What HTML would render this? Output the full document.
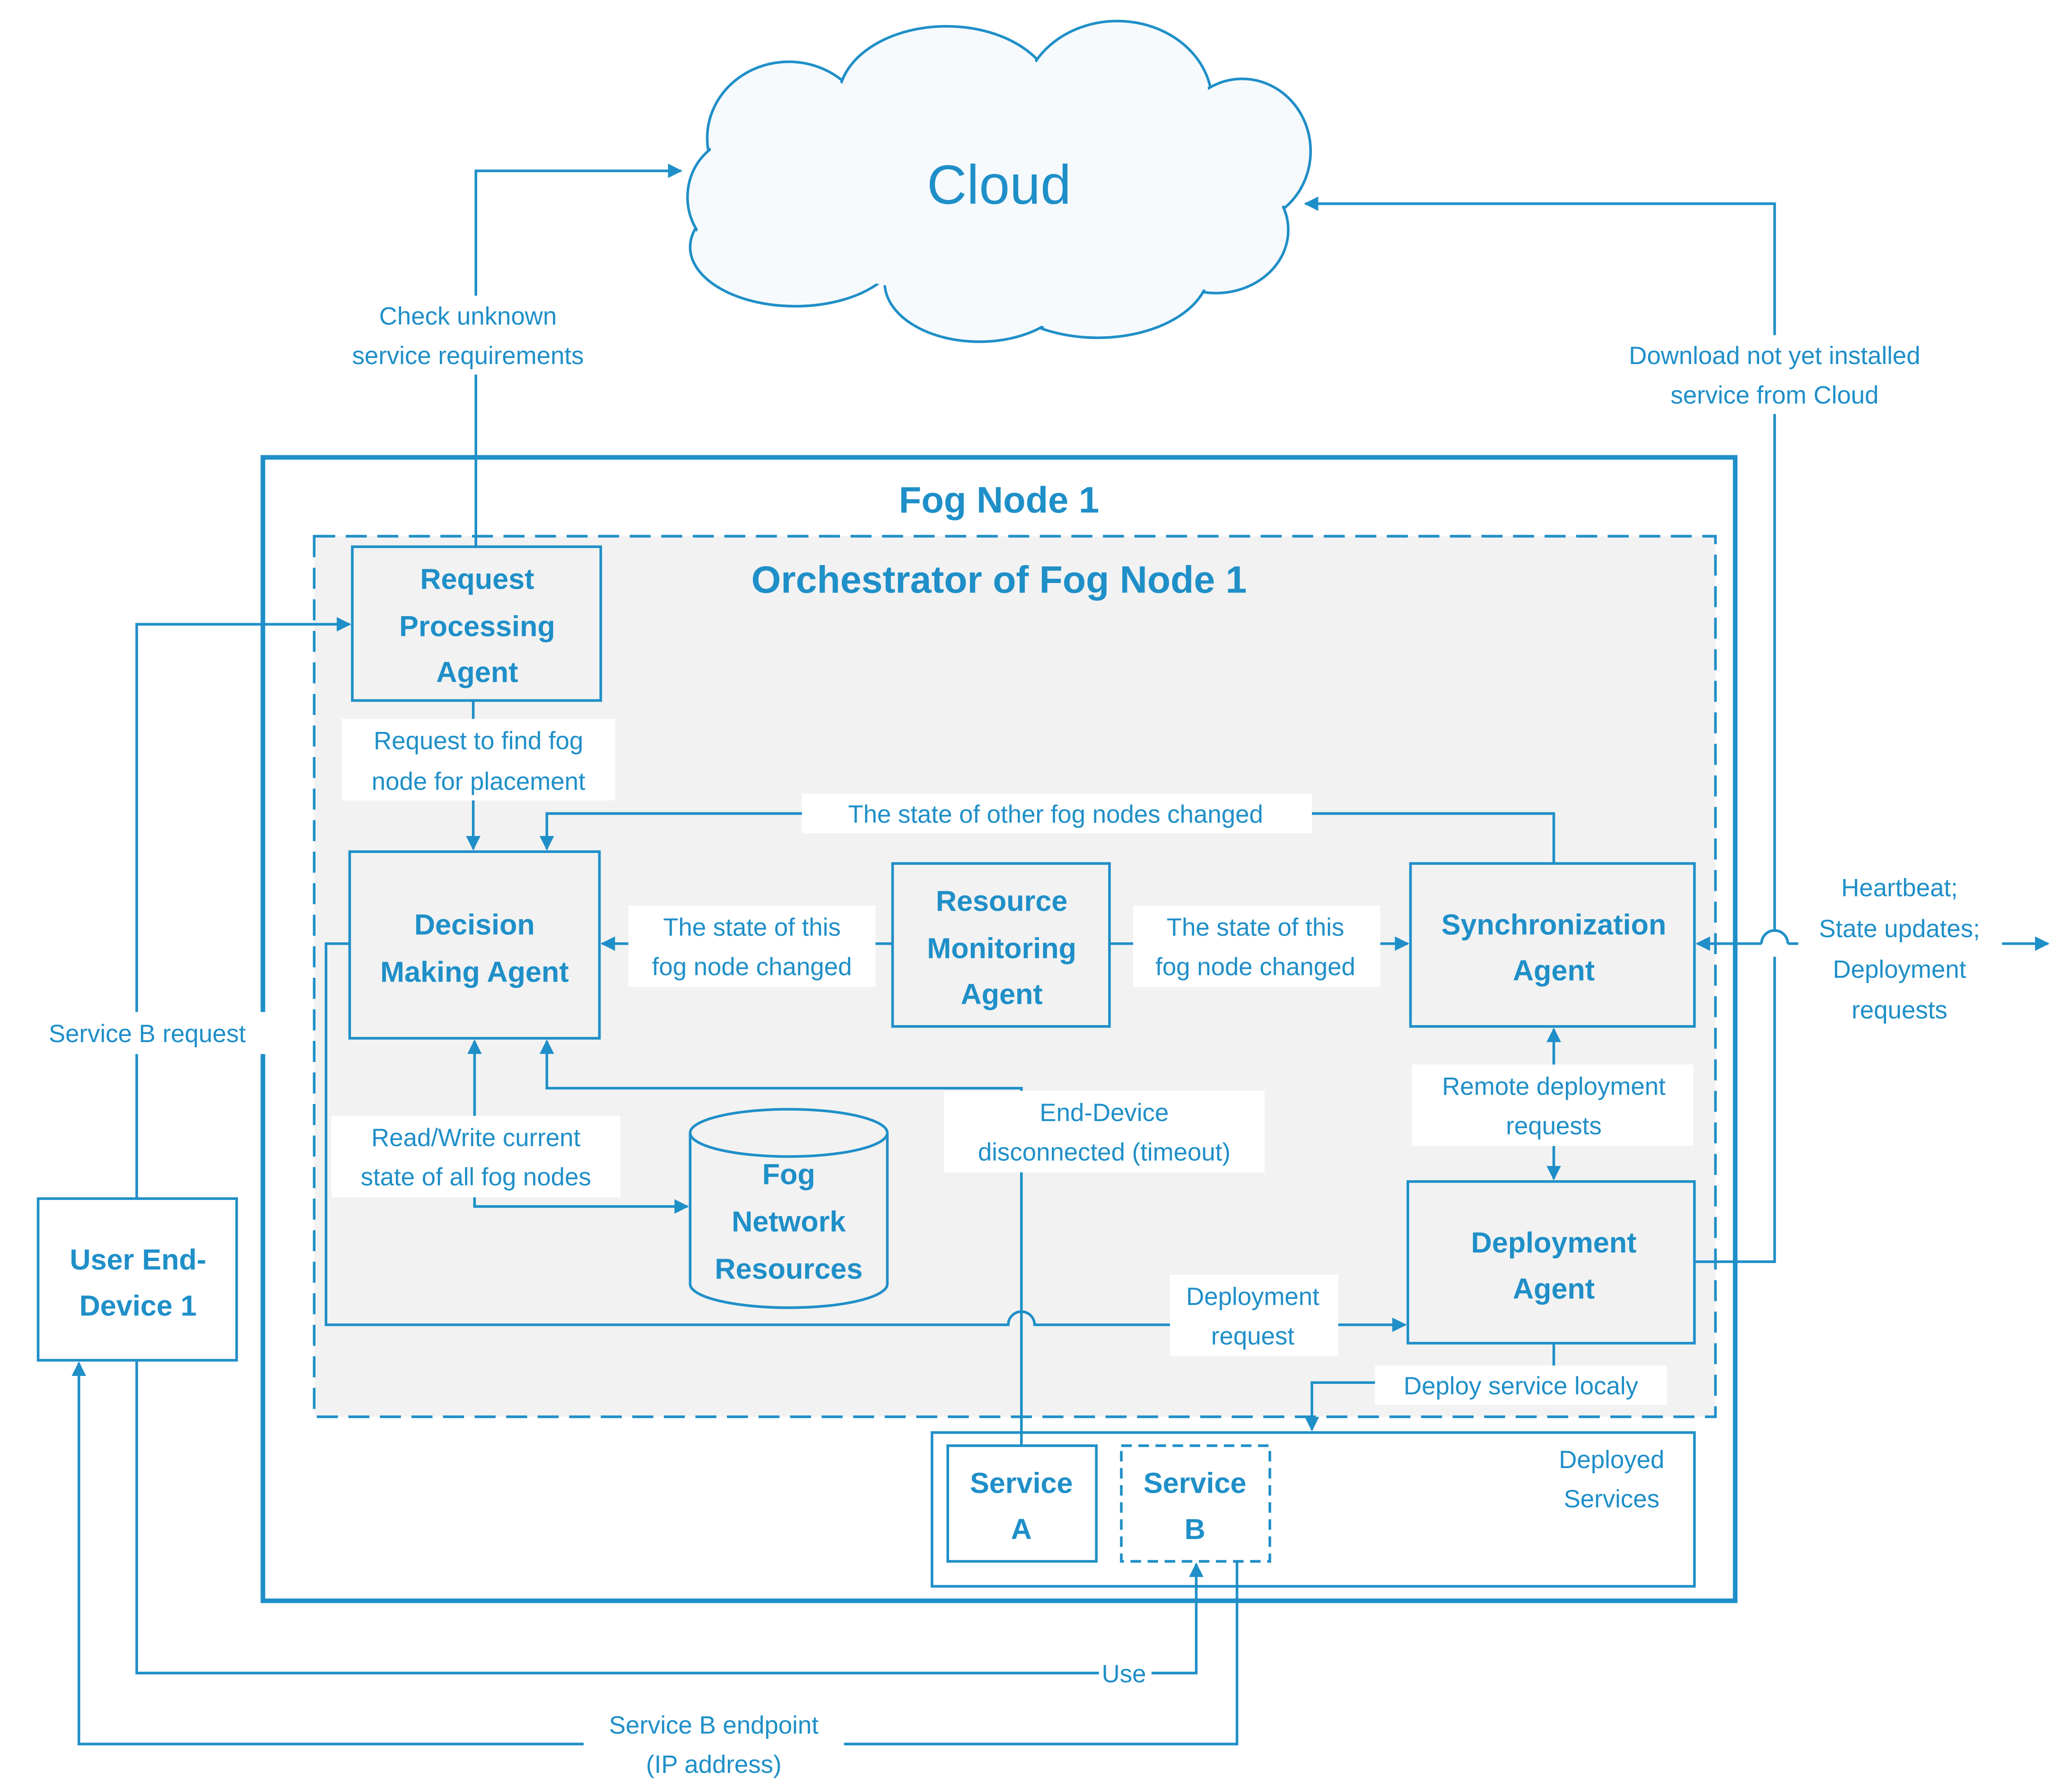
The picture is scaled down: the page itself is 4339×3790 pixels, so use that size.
<!DOCTYPE html>
<html><head><meta charset="utf-8"><style>
html,body{margin:0;padding:0;background:#fff}
svg{display:block}
text{font-family:"Liberation Sans",sans-serif;fill:#1f8fc8}
.l{font-size:19px}
.b{font-size:22px;font-weight:bold}
</style></head><body>
<svg width="4339" height="3790" viewBox="0 0 1561 1363.5" xmlns="http://www.w3.org/2000/svg">
<defs>
<marker id="a" viewBox="0 0 10 10" refX="9" refY="5" markerWidth="11" markerHeight="11" orient="auto-start-reverse" markerUnits="userSpaceOnUse"><path d="M0,0L10,5L0,10z" fill="#1f8fc8"/></marker>
</defs>
<g stroke="#1f8fc8" fill="none" stroke-width="2">
<g stroke-width="2">
<ellipse cx="600" cy="105" rx="62" ry="58" fill="#f7fafd"/>
<ellipse cx="720" cy="75" rx="82" ry="55" fill="#f7fafd"/>
<ellipse cx="850" cy="78" rx="72" ry="62" fill="#f7fafd"/>
<ellipse cx="945" cy="115" rx="52" ry="55" fill="#f7fafd"/>
<ellipse cx="925" cy="175" rx="55" ry="48" fill="#f7fafd"/>
<ellipse cx="835" cy="205" rx="85" ry="52" fill="#f7fafd"/>
<ellipse cx="745" cy="215" rx="72" ry="45" fill="#f7fafd"/>
<ellipse cx="605" cy="188" rx="80" ry="45" fill="#f7fafd"/>
<ellipse cx="565" cy="150" rx="42" ry="45" fill="#f7fafd"/>
</g>
<g stroke="none" fill="#f7fafd">
<ellipse cx="600" cy="105" rx="60" ry="56"/>
<ellipse cx="720" cy="75" rx="80" ry="53"/>
<ellipse cx="850" cy="78" rx="70" ry="60"/>
<ellipse cx="945" cy="115" rx="50" ry="53"/>
<ellipse cx="925" cy="175" rx="53" ry="46"/>
<ellipse cx="835" cy="205" rx="83" ry="50"/>
<ellipse cx="745" cy="215" rx="70" ry="43"/>
<ellipse cx="605" cy="188" rx="78" ry="43"/>
<ellipse cx="565" cy="150" rx="40" ry="43"/>
<ellipse cx="760" cy="145" rx="200" ry="80"/>
</g>
<rect x="200" y="348" width="1120" height="870" stroke-width="3.5"/>
<rect x="239" y="408" width="1066" height="670" fill="#f2f2f2" stroke-dasharray="16 8"/>
<rect x="268" y="416" width="189" height="117" fill="#f2f2f2"/>
<rect x="266" y="648" width="190" height="142" fill="#f2f2f2"/>
<rect x="679" y="657" width="165" height="124" fill="#f2f2f2"/>
<rect x="1073" y="657" width="216" height="124" fill="#f2f2f2"/>
<rect x="1071" y="899" width="218" height="123" fill="#f2f2f2"/>
<rect x="29" y="912" width="151" height="123" fill="#fff"/>
<rect x="709" y="1090" width="580" height="117" fill="#fff"/>
<rect x="721" y="1100" width="113" height="88"/>
<rect x="853" y="1100" width="113" height="88" stroke-dasharray="8 5"/>
<path d="M525,862 V977 A75,18 0 0 0 675,977 V862" fill="#f2f2f2"/>
<ellipse cx="600" cy="862" rx="75" ry="18" fill="#f2f2f2"/>
<path d="M362,416 V130 H518" marker-end="url(#a)"/>
<path d="M1289,960 H1350 V728 M1350,708 V155 H993" marker-end="url(#a)"/>
<path d="M1340,718 a10,10 0 0 1 20,0" />
<path d="M104,912 V475 H266" marker-end="url(#a)"/>
<path d="M360,533 V646" marker-end="url(#a)"/>
<path d="M1182,657 V619 H416 V646" marker-end="url(#a)"/>
<path d="M679,718 H458" marker-end="url(#a)"/>
<path d="M844,718 H1071" marker-end="url(#a)"/>
<path d="M1182,783 V897" marker-start="url(#a)" marker-end="url(#a)"/>
<path d="M361,792 V918 H523" marker-start="url(#a)" marker-end="url(#a)"/>
<path d="M777,1100 V828 H416 V792" marker-end="url(#a)"/>
<path d="M266,718 H248 V1008 H767 a10,10 0 0 1 20,0 H1069" marker-end="url(#a)"/>
<path d="M1182,1022 V1052 H998 V1088" marker-end="url(#a)"/>
<path d="M1360,718 H1558" marker-end="url(#a)"/>
<path d="M1291,718 H1340" marker-start="url(#a)"/>
<path d="M104,1035 V1273 H910 V1190" marker-end="url(#a)"/>
<path d="M941,1188 V1327 H60 V1037" marker-end="url(#a)"/>
</g>
<g fill="#fff">
<rect x="245" y="225" width="222" height="60"/>
<rect x="1208" y="255" width="284" height="60"/>
<rect x="20" y="770" width="184" height="32"/>
<rect x="260" y="547" width="208" height="62"/>
<rect x="610" y="604" width="388" height="30"/>
<rect x="478" y="689" width="188" height="62"/>
<rect x="862" y="689" width="188" height="62"/>
<rect x="1074" y="810" width="214" height="62"/>
<rect x="252" y="849" width="220" height="62"/>
<rect x="718" y="830" width="244" height="62"/>
<rect x="890" y="970" width="128" height="62"/>
<rect x="1046" y="1039" width="222" height="30"/>
<rect x="1368" y="660" width="155" height="124"/>
<rect x="836" y="1260" width="40" height="28"/>
<rect x="444" y="1297" width="198" height="62"/>
</g>
<g text-anchor="middle">
<text x="760" y="155" style="font-size:42px">Cloud</text>
<text x="760" y="390" style="font-size:28px;font-weight:bold">Fog Node 1</text>
<text x="760" y="451" style="font-size:29px;font-weight:bold">Orchestrator of Fog Node 1</text>
<text class="b" x="363" y="448">Request</text>
<text class="b" x="363" y="484">Processing</text>
<text class="b" x="363" y="519">Agent</text>
<text class="b" x="361" y="711">Decision</text>
<text class="b" x="361" y="747">Making Agent</text>
<text class="b" x="762" y="693">Resource</text>
<text class="b" x="762" y="729">Monitoring</text>
<text class="b" x="762" y="764">Agent</text>
<text class="b" x="1182" y="711">Synchronization</text>
<text class="b" x="1182" y="746">Agent</text>
<text class="b" x="1182" y="953">Deployment</text>
<text class="b" x="1182" y="988">Agent</text>
<text class="b" x="600" y="901">Fog</text>
<text class="b" x="600" y="937">Network</text>
<text class="b" x="600" y="973">Resources</text>
<text class="b" x="105" y="966">User End-</text>
<text class="b" x="105" y="1001">Device 1</text>
<text class="b" x="777" y="1136">Service</text>
<text class="b" x="777" y="1171">A</text>
<text class="b" x="909" y="1136">Service</text>
<text class="b" x="909" y="1171">B</text>
<text class="l" x="1226" y="1117">Deployed</text>
<text class="l" x="1226" y="1147">Services</text>
<text class="l" x="356" y="247">Check unknown</text>
<text class="l" x="356" y="277">service requirements</text>
<text class="l" x="1350" y="277">Download not yet installed</text>
<text class="l" x="1350" y="307">service from Cloud</text>
<text class="l" x="112" y="793">Service B request</text>
<text class="l" x="364" y="570">Request to find fog</text>
<text class="l" x="364" y="601">node for placement</text>
<text class="l" x="803" y="626">The state of other fog nodes changed</text>
<text class="l" x="572" y="712">The state of this</text>
<text class="l" x="572" y="742">fog node changed</text>
<text class="l" x="955" y="712">The state of this</text>
<text class="l" x="955" y="742">fog node changed</text>
<text class="l" x="1182" y="833">Remote deployment</text>
<text class="l" x="1182" y="863">requests</text>
<text class="l" x="362" y="872">Read/Write current</text>
<text class="l" x="362" y="902">state of all fog nodes</text>
<text class="l" x="840" y="853">End-Device</text>
<text class="l" x="840" y="883">disconnected (timeout)</text>
<text class="l" x="953" y="993">Deployment</text>
<text class="l" x="953" y="1023">request</text>
<text class="l" x="1157" y="1061">Deploy service localy</text>
<text class="l" x="1445" y="682">Heartbeat;</text>
<text class="l" x="1445" y="713">State updates;</text>
<text class="l" x="1445" y="744">Deployment</text>
<text class="l" x="1445" y="775">requests</text>
<text class="l" x="855" y="1280">Use</text>
<text class="l" x="543" y="1319">Service B endpoint</text>
<text class="l" x="543" y="1349">(IP address)</text>
</g>
</svg>
</body></html>
